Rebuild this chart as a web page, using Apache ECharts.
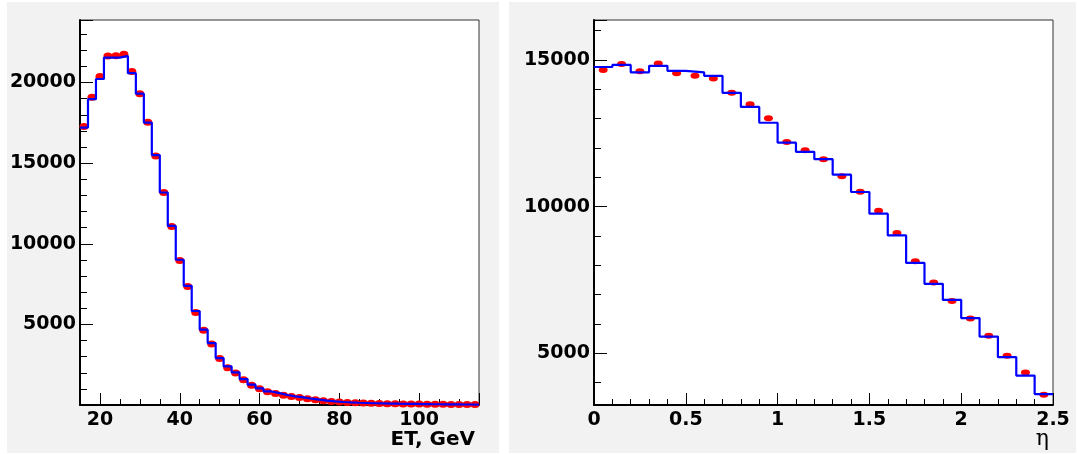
<!DOCTYPE html>
<html>
<head>
<meta charset="utf-8">
<script src="https://cdn.jsdelivr.net/npm/echarts@6/dist/echarts.min.js"></script>
<style>
html,body{margin:0;padding:0;background:#ffffff;}
#chart{width:1077px;height:454px;}
</style>
</head>
<body>
<div id="chart"></div>
<script>
// ---- data ----
const etRange = [15, 115];            // GeV, 50 bins of 2 GeV
const etHist = [17210, 18970, 20220, 21550, 21550, 21650, 20580, 19310, 17520, 15500,
  13180, 11110, 9010, 7390, 5830, 4670, 3840, 2910, 2390, 2020,
  1610, 1260, 1030, 840, 740, 620, 530, 470, 390, 330,
  270, 225, 185, 160, 140, 125, 110, 100, 90, 80,
  72, 65, 58, 52, 47, 42, 38, 34, 31, 28];
const etPoints = [17270, 19090, 20370, 21650, 21670, 21750, 20680, 19300, 17540, 15450,
  13180, 11070, 8960, 7350, 5740, 4630, 3780, 2890, 2310, 1980,
  1570, 1220, 1010, 820, 720, 600, 520, 460, 380, 320,
  260, 215, 180, 155, 135, 120, 105, 95, 85, 76,
  68, 62, 55, 50, 45, 40, 36, 33, 30, 27];
const etYRange = [0, 23880];

const etaRange = [0, 2.5];            // 25 bins of 0.1
const etaHist = [14760, 14830, 14580, 14800, 14630, 14580, 14460, 13880, 13400, 12860,
  12180, 11870, 11620, 11090, 10500, 9760, 9020, 8080, 7370, 6820,
  6200, 5570, 4870, 4240, 3610];
const etaPoints = [14660, 14860, 14620, 14880, 14550, 14460, 14370, 13880, 13490, 13010,
  12200, 11920, 11620, 11040, 10510, 9860, 9100, 8140, 7410, 6780,
  6190, 5600, 4920, 4350, 3590];
const etaYRange = [3238, 16363];

const etTitle = 'ET, GeV';
const etaTitle = 'η';

// ---- helpers building series data from the arrays ----
function stepData(range, vals) {
  const w = (range[1] - range[0]) / vals.length;
  const out = vals.map((v, i) => [range[0] + i * w, v]);
  out.push([range[1], vals[vals.length - 1]]);
  return out;
}
function pointData(range, vals) {
  const w = (range[1] - range[0]) / vals.length;
  return vals.map((v, i) => [range[0] + (i + 0.5) * w, v]);
}

const FONT = 'DejaVu Sans';
const labelStyle = {color: '#000', fontFamily: FONT, fontWeight: 'bold', fontSize: 19};

function mainAxis(opts) {
  return Object.assign({
    type: 'value',
    axisLine: {show: true, onZero: false, lineStyle: {color: '#000', width: 2}},
    axisTick: {show: true, inside: true, length: 12, lineStyle: {color: '#000', width: 1}},
    splitLine: {show: false},
    minorTick: {show: false},
    axisLabel: Object.assign({}, labelStyle)
  }, opts);
}
function minorAxis(opts) {
  return Object.assign({
    type: 'value',
    axisLine: {show: false},
    axisTick: {show: true, inside: true, length: 6, lineStyle: {color: '#000', width: 1}},
    splitLine: {show: false},
    axisLabel: {show: false}
  }, opts);
}

const chart = echarts.init(document.getElementById('chart'), null, {renderer: 'canvas'});
const option = {
  animation: false,
  backgroundColor: '#ffffff',
  graphic: [
    {type: 'rect', z: -100, silent: true, shape: {x: 7, y: 2, width: 492, height: 451}, style: {fill: '#f2f2f2'}},
    {type: 'rect', z: -100, silent: true, shape: {x: 509, y: 2, width: 567, height: 451}, style: {fill: '#f2f2f2'}},
    {type: 'text', z: 100, silent: true, x: 475, y: 440,
      style: {text: etTitle, fill: '#000', font: 'bold 20px "DejaVu Sans"', align: 'right', verticalAlign: 'middle'}},
    {type: 'text', z: 100, silent: true, x: 1049, y: 439,
      style: {text: etaTitle, fill: '#000', font: '22px "DejaVu Serif"', align: 'right', verticalAlign: 'middle'}}
  ],
  grid: [
    {left: 80, top: 20, width: 399, height: 385, show: true, backgroundColor: '#ffffff', borderColor: '#333', borderWidth: 1},
    {left: 594, top: 20, width: 459, height: 385, show: true, backgroundColor: '#ffffff', borderColor: '#333', borderWidth: 1}
  ],
  xAxis: [
    mainAxis({gridIndex: 0, position: 'bottom', min: etRange[0], max: etRange[1], splitNumber: 5,
      axisLabel: Object.assign({}, labelStyle, {margin: 6, formatter: v => (v % 20 === 0 ? String(v) : '')})}),
    minorAxis({gridIndex: 0, position: 'bottom', min: etRange[0], max: etRange[1], interval: 5}),
    mainAxis({gridIndex: 1, position: 'bottom', min: etaRange[0], max: etaRange[1], interval: 0.5,
      axisLabel: Object.assign({}, labelStyle, {margin: 6, showMinLabel: true, showMaxLabel: true,
        formatter: v => String(Math.round(v * 10) / 10)})}),
    minorAxis({gridIndex: 1, position: 'bottom', min: etaRange[0], max: etaRange[1], interval: 0.1})
  ],
  yAxis: [
    mainAxis({gridIndex: 0, position: 'left', min: etYRange[0], max: etYRange[1], interval: 5000,
      axisTick: {show: true, inside: true, length: 13, lineStyle: {color: '#000', width: 1}},
      axisLabel: Object.assign({}, labelStyle, {margin: 4, formatter: v => (v > 0 && v % 5000 === 0 ? String(v) : '')})}),
    minorAxis({gridIndex: 0, position: 'left', min: etYRange[0], max: etYRange[1], interval: 1000,
      axisTick: {show: true, inside: true, length: 7, lineStyle: {color: '#000', width: 1}}}),
    mainAxis({gridIndex: 1, position: 'left', min: etaYRange[0], max: etaYRange[1], splitNumber: 3,
      axisTick: {show: true, inside: true, length: 13, lineStyle: {color: '#000', width: 1}},
      axisLabel: Object.assign({}, labelStyle, {margin: 4, formatter: v => (v % 5000 === 0 ? String(v) : '')})}),
    minorAxis({gridIndex: 1, position: 'left', min: etaYRange[0], max: etaYRange[1], splitNumber: 13,
      axisTick: {show: true, inside: true, length: 7, lineStyle: {color: '#000', width: 1}}})
  ],
  series: [
    {type: 'scatter', xAxisIndex: 0, yAxisIndex: 0, z: 2, symbol: 'circle', symbolSize: [9, 7],
      itemStyle: {color: '#ff0000', opacity: 1}, data: pointData(etRange, etPoints)},
    {type: 'line', xAxisIndex: 0, yAxisIndex: 0, z: 3, step: 'end', showSymbol: false, symbol: 'none',
      lineStyle: {color: '#0000ff', width: 2.2}, data: stepData(etRange, etHist)},
    {type: 'scatter', xAxisIndex: 2, yAxisIndex: 2, z: 2, symbol: 'circle', symbolSize: [9, 6],
      itemStyle: {color: '#ff0000', opacity: 1}, data: pointData(etaRange, etaPoints)},
    {type: 'line', xAxisIndex: 2, yAxisIndex: 2, z: 3, step: 'end', showSymbol: false, symbol: 'none',
      lineStyle: {color: '#0000ff', width: 2.2}, data: stepData(etaRange, etaHist)}
  ]
};
chart.setOption(option);
</script>
</body>
</html>
